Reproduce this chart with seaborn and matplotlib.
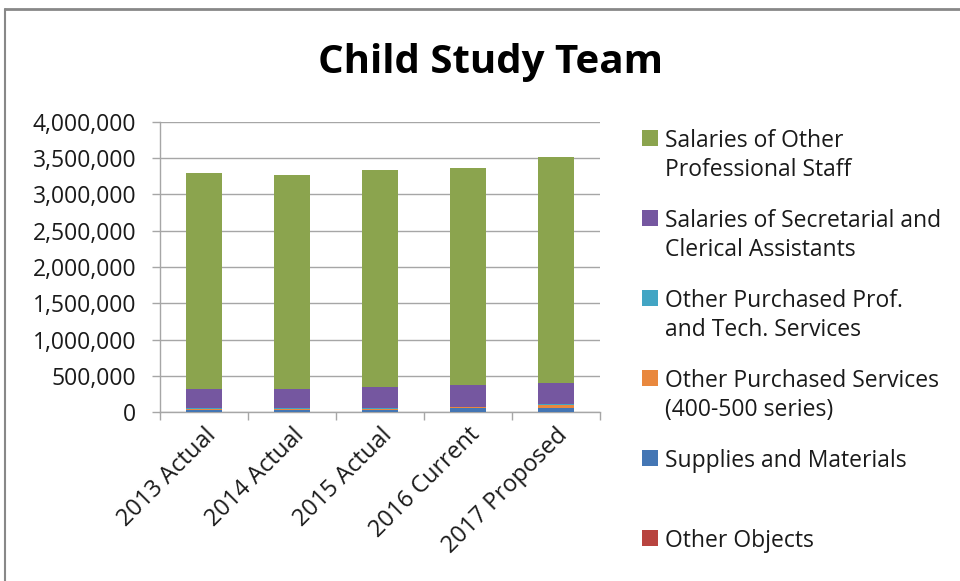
import matplotlib
matplotlib.use("Agg")
import matplotlib.pyplot as plt
import matplotlib.ticker as mticker
from matplotlib.patches import Rectangle
from matplotlib.lines import Line2D
import numpy as np
import pandas as pd
import seaborn as sns

sns.set_style("white")
plt.rcParams['font.family'] = ['Open Sans', 'DejaVu Sans']

# === DATA ===
years = ['2013 Actual', '2014 Actual', '2015 Actual', '2016 Current', '2017 Proposed']
other_objects = [2000, 2000, 2000, 2000, 2000]
supplies = [32000, 32000, 32000, 50000, 60000]
other_purchased = [12000, 12000, 12000, 18000, 40000]
prof_tech = [3000, 3000, 3000, 3000, 3000]
secretarial = [270000, 270000, 293000, 305000, 295000]
professional = [2971000, 2951000, 2998000, 2982000, 3123000]

# bottom -> top stacking order
series = [
    ("Other Objects", other_objects, '#B8443F'),
    ("Supplies and Materials", supplies, '#4476B4'),
    ("Other Purchased Services\n(400-500 series)", other_purchased, '#E9883E'),
    ("Other Purchased Prof.\nand Tech. Services", prof_tech, '#42A5C4'),
    ("Salaries of Secretarial and\nClerical Assistants", secretarial, '#7557A0'),
    ("Salaries of Other\nProfessional Staff", professional, '#8BA44E'),
]

fig = plt.figure(figsize=(9.6, 5.81), dpi=100)
ax = fig.add_axes([160 / 960, 1 - 412 / 581, 440 / 960, 290 / 581])

# stacked bars: draw cumulative totals from the top segment down
cum = np.cumsum([s[1] for s in series], axis=0)
for i in range(len(series) - 1, -1, -1):
    df = pd.DataFrame({'year': years, 'value': cum[i]})
    sns.barplot(data=df, x='year', y='value', color=series[i][2], width=0.4,
                saturation=1, ax=ax, zorder=3, edgecolor='none', linewidth=0)

ax.set_ylim(0, 4000000)
ax.set_xlim(-0.5, 4.5)
ax.yaxis.set_major_locator(mticker.MultipleLocator(500000))
ax.yaxis.set_major_formatter(mticker.FuncFormatter(lambda v, p: f"{int(v):,}"))
ax.grid(axis='y', color='#A6A6A6', linewidth=1, zorder=0)
ax.set_xlabel('')
ax.set_ylabel('')
for side in ['top', 'right']:
    ax.spines[side].set_visible(False)
for side in ['left', 'bottom']:
    ax.spines[side].set_color('#A6A6A6')
    ax.spines[side].set_linewidth(1)

ax.tick_params(axis='y', length=6, width=1, color='#A6A6A6', labelsize=16.5, pad=11,
               labelcolor='#1A1A1A', left=True)
ax.set_xticks(np.arange(-0.5, 5, 1), minor=True)
ax.tick_params(axis='x', which='major', length=0, pad=8)
ax.tick_params(axis='x', which='minor', length=6, width=1, color='#A6A6A6', bottom=True)
ax.set_xticks(range(len(years)))
ax.set_xticklabels(years, rotation=45, ha='right', rotation_mode='anchor',
                   fontsize=17, color='#1A1A1A')

fig.text(491 / 960, 1 - 62 / 581, "Child Study Team", ha='center', va='center',
         fontsize=29, fontweight='bold', color='black')

# legend, top entry first, each entry in an 80 px slot
legend_items = series[::-1]
for k, (label, _, color) in enumerate(legend_items):
    y_px = 138 + 80 * k
    fig.patches.append(Rectangle((642 / 960, 1 - (y_px + 8) / 581), 16 / 960, 16 / 581,
                                 transform=fig.transFigure, facecolor=color, edgecolor='none'))
    fig.text(665 / 960, 1 - (y_px - 9) / 581, label, ha='left', va='top',
             fontsize=16.5, color='#1A1A1A', linespacing=1.25)

# chart border (top and left visible)
fig.add_artist(Line2D([5 / 960, 1], [1 - 9 / 581, 1 - 9 / 581], transform=fig.transFigure,
                      color='#888888', linewidth=2))
fig.add_artist(Line2D([5 / 960, 5 / 960], [0, 1 - 9 / 581], transform=fig.transFigure,
                      color='#888888', linewidth=1.5))

fig.savefig("out.png", dpi=100)
